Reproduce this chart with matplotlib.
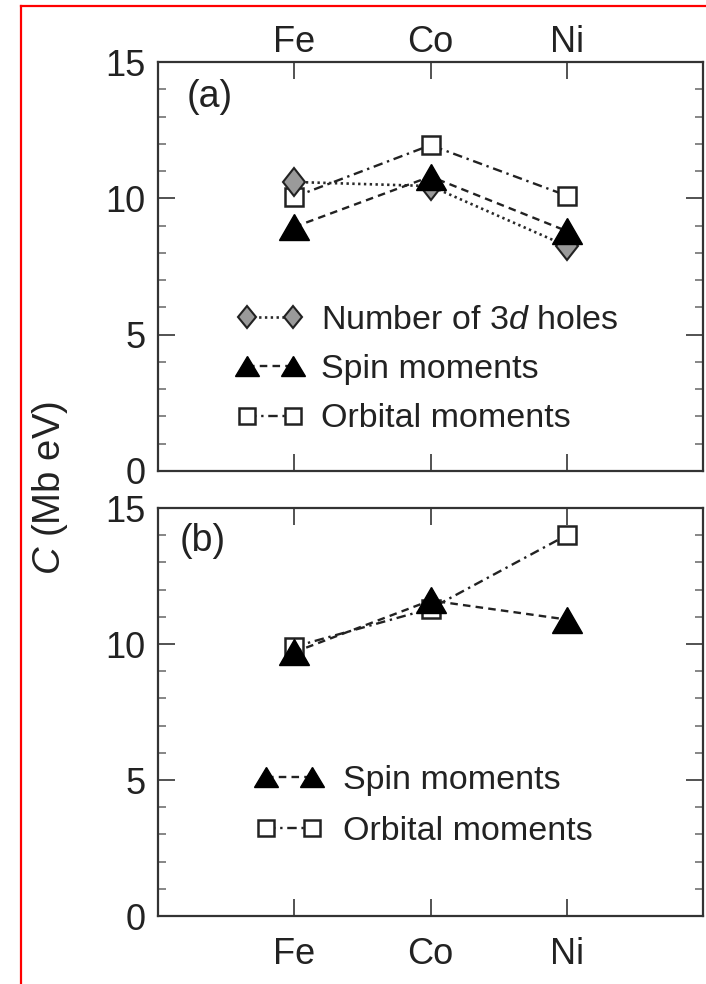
import matplotlib
matplotlib.use("Agg")
import matplotlib.pyplot as plt
from matplotlib.lines import Line2D
from matplotlib.markers import MarkerStyle
from matplotlib.transforms import Affine2D
from matplotlib.ticker import MultipleLocator

plt.rcParams["font.family"] = ["Liberation Sans", "DejaVu Sans"]
plt.rcParams["mathtext.fontset"] = "custom"
plt.rcParams["mathtext.rm"] = "Liberation Sans"
plt.rcParams["mathtext.it"] = "Liberation Sans:italic"

# ---- data -------------------------------------------------------------
elements = ["Fe", "Co", "Ni"]
positions = [1, 2, 3]

# panel (a)
holes_a = [10.6, 10.45, 8.25]
spin_a = [8.95, 10.8, 8.8]
orbital_a = [10.05, 11.95, 10.1]

# panel (b)
spin_b = [9.7, 11.6, 10.9]
orbital_b = [9.9, 11.3, 14.0]

labels_a = ["Number of 3$d$ holes", "Spin moments", "Orbital moments"]
labels_b = ["Spin moments", "Orbital moments"]

# ---- styles -----------------------------------------------------------
INK = "#222222"
SPINE = "#333333"

diamond = MarkerStyle("D", transform=Affine2D().scale(0.82, 1.0))
triangle = MarkerStyle("^", transform=Affine2D().scale(1.1, 0.95))

holes_style = dict(marker=diamond, ms=14, mfc="#9a9a9a", mec=INK, mew=1.5,
                   color="#2a2a2a", lw=1.9, ls=(0, (0.9, 1.3)), zorder=4)
spin_style = dict(marker=triangle, ms=19, mfc="black", mec="black", mew=1.0,
                  color="#222222", lw=1.7, ls=(0, (3.2, 2.2)), zorder=5)
orbital_style = dict(marker="s", ms=13.5, mfc="white", mec=INK, mew=1.8,
                     color="#222222", lw=1.7, ls=(0, (4, 2, 1, 2)), zorder=3)

fig = plt.figure(figsize=(7.06, 9.84), dpi=100)
W, H = 706.0, 984.0
ax_a = fig.add_axes([158 / W, 1 - 471 / H, 545 / W, 409 / H])
ax_b = fig.add_axes([158 / W, 1 - 916 / H, 545 / W, 408 / H])


def style_axes(ax, top_labels):
    ax.set_xlim(0, 4)
    ax.set_ylim(0, 15)
    ax.set_xticks(positions)
    ax.set_xticklabels(elements)
    ax.yaxis.set_major_locator(MultipleLocator(5))
    ax.yaxis.set_minor_locator(MultipleLocator(1))
    for s in ax.spines.values():
        s.set_color(SPINE)
        s.set_linewidth(1.6)
    ax.tick_params(which="both", direction="in", top=True, right=True,
                   colors="#444444", labelcolor=INK)
    ax.tick_params(which="major", length=12, width=1.3, labelsize=26)
    ax.tick_params(axis="y", which="major", pad=9)
    ax.tick_params(axis="y", which="minor", length=6, width=1.1, color="#666666")
    if top_labels:
        ax.tick_params(axis="x", labeltop=True, labelbottom=False, pad=1.5)
    else:
        ax.tick_params(axis="x", labeltop=False, labelbottom=True, pad=15)


style_axes(ax_a, True)
style_axes(ax_b, False)

legend_kw = dict(loc="center left", frameon=False, numpoints=2,
                 handlelength=1.95, borderpad=0, borderaxespad=0,
                 fontsize=24.5, markerscale=0.82, labelcolor=INK)

# ---- panel (a) --------------------------------------------------------
h1, = ax_a.plot(positions, holes_a, **holes_style)
h2, = ax_a.plot(positions, spin_a, **spin_style)
h3, = ax_a.plot(positions, orbital_a, **orbital_style)
ax_a.text(0.053, 0.914, "(a)", transform=ax_a.transAxes, fontsize=27,
          color=INK, ha="left", va="center")
ax_a.legend([h1, h2, h3], labels_a, bbox_to_anchor=(0.145, 0.248),
            handletextpad=0.52, labelspacing=0.54, **legend_kw)

# ---- panel (b) --------------------------------------------------------
g1, = ax_b.plot(positions, spin_b, **spin_style)
g2, = ax_b.plot(positions, orbital_b, **orbital_style)
ax_b.text(0.040, 0.918, "(b)", transform=ax_b.transAxes, fontsize=27,
          color=INK, ha="left", va="center")
ax_b.legend([g1, g2], labels_b, bbox_to_anchor=(0.18, 0.27),
            handletextpad=0.6, labelspacing=0.6, **legend_kw)

# shared y label
fig.text(50 / W, 1 - 488.5 / H, r"$C$ (Mb eV)", rotation=90, ha="center",
         va="center", fontsize=27.5, color=INK)

# red frame along the top and left edges
fig.add_artist(Line2D([21 / W, 1], [1 - 6 / H, 1 - 6 / H],
                      transform=fig.transFigure, color="red", lw=1.6))
fig.add_artist(Line2D([21 / W, 21 / W], [0, 1 - 6 / H],
                      transform=fig.transFigure, color="red", lw=1.6))

fig.savefig("out.png", dpi=100)
